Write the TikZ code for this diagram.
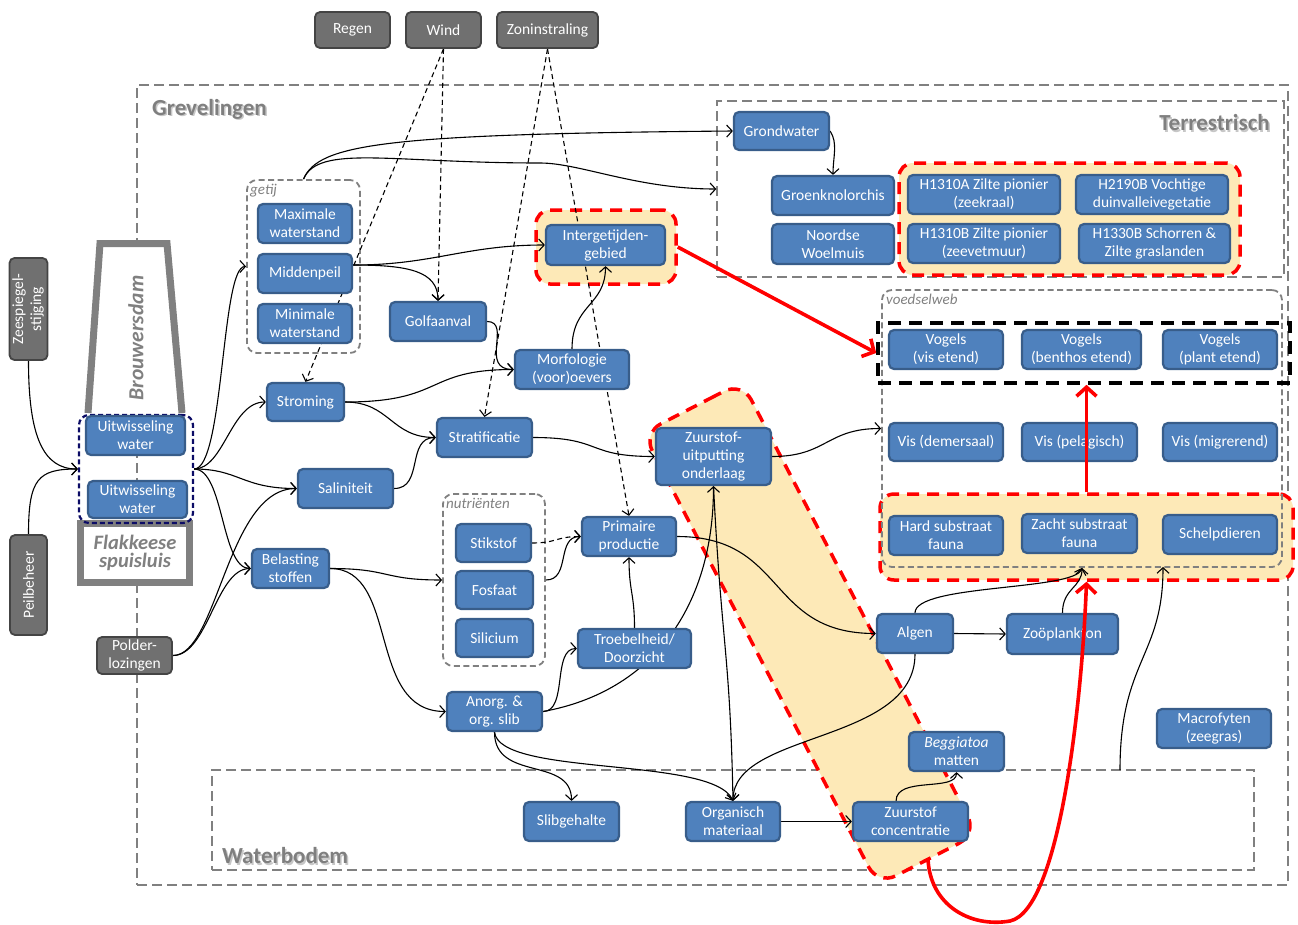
\documentclass[tikz,border=0pt]{standalone}
\usepackage{fontspec}
\setmainfont{Carlito}
\usepackage{graphicx}
\usetikzlibrary{arrows.meta}

\definecolor{bluefill}{HTML}{4F81BD}
\definecolor{bluebd}{HTML}{385D8A}
\definecolor{greyfill}{HTML}{707070}
\definecolor{greybd}{HTML}{444444}
\definecolor{boxgrey}{HTML}{808080}
\definecolor{labelgrey}{HTML}{7F7F7F}
\definecolor{paleorange}{HTML}{FDE9B7}
\definecolor{navyline}{HTML}{0C0C66}

\newcommand{\nodetxt}{\fontsize{15.5}{18}\selectfont}

\pgfdeclarelayer{bg}
\pgfdeclarelayer{lines}
\pgfdeclarelayer{top}
\pgfsetlayers{bg,lines,main,top}

\tikzset{
  bn/.style 2 args={rectangle, draw=bluebd, fill=bluefill, line width=2.2pt,
    rounded corners=5pt, minimum width=#1, minimum height=#2, inner sep=1pt,
    text=white, align=center, font=\nodetxt},
  gn/.style 2 args={rectangle, draw=greybd, fill=greyfill, line width=1.8pt,
    rounded corners=5pt, minimum width=#1, minimum height=#2, inner sep=1pt,
    text=white, align=center, font=\nodetxt},
  region/.style 2 args={rectangle, draw=boxgrey, line width=1.4pt,
    dash pattern=on 10pt off 5pt, minimum width=#1, minimum height=#2, inner sep=0pt},
  cluster/.style 2 args={rectangle, draw=boxgrey, line width=1.8pt,
    dash pattern=on 6pt off 3.5pt, rounded corners=10pt,
    minimum width=#1, minimum height=#2, inner sep=0pt},
  hot/.style 2 args={rectangle, draw=red, fill=paleorange, line width=3.5pt,
    dash pattern=on 12pt off 8pt, rounded corners=14pt,
    minimum width=#1, minimum height=#2, inner sep=0pt},
  arealabel/.style={font=\fontsize{23}{26}\selectfont\bfseries, text=labelgrey, inner sep=0pt},
  areashadow/.style={font=\fontsize{23}{26}\selectfont\bfseries, text=black!22, inner sep=0pt},
  clusterlabel/.style={font=\fontsize{15}{17}\selectfont\itshape, text=boxgrey,
    anchor=north west, inner sep=1pt},
  conn/.style={line width=1.1pt, -{Straight Barb[length=5.5pt,width=12pt]}},
  dconn/.style={conn, dash pattern=on 5pt off 3.5pt},
  redarrow/.style={red, line width=3.6pt, -{Straight Barb[length=9pt,width=20pt]}},
}

\begin{document}
\begin{tikzpicture}[x=1pt,y=-1pt]
\useasboundingbox (0,0) rectangle (1298,924);

% ---------- areas, clusters and highlights ----------
\begin{pgfonlayer}{bg}
  \node[region={1151}{800}] (grev) at (712.5,485) {};
  \node[region={567}{176}] (terr) at (1000.5,189) {};
  \node[region={1042}{100}] (wbod) at (733,820) {};

  \node[areashadow, anchor=west] (grevs) at (153.5,110.5) {Grevelingen};
  \node[arealabel, anchor=west] (grevl) at (152,109) {Grevelingen};
  \node[areashadow, anchor=east] (terrs) at (1271.5,124.5) {Terrestrisch};
  \node[arealabel, anchor=east] (terrl) at (1270,123) {Terrestrisch};
  \node[areashadow, anchor=west] (wbods) at (223.5,857.5) {Waterbodem};
  \node[arealabel, anchor=west] (wbodl) at (222,856) {Waterbodem};

  % highlighted groups
  \node[hot={140}{74}] (intgrp) at (606,247) {};
  \node[hot={341}{112}] (terrgrp) at (1069.5,219) {};
  \node[hot={413}{86}] (faunagrp) at (1086.5,537) {};
  \path[draw=red, fill=paleorange, line width=3.5pt, dash pattern=on 12pt off 8pt,
        rounded corners=20pt]
    (692.5,407.5) -- (742,382) -- (977,834) -- (878,885) -- (643,433) -- cycle;
  \coordinate (diagbot) at (928,859);

  % dashed clusters
  \node[cluster={113}{173}] (getij) at (303.5,266.5) {};
  \node[clusterlabel] (getijl) at (249,183) {getij};
  \node[cluster={102}{172}] (nut) at (494,580) {};
  \node[clusterlabel] (nutl) at (445,497) {nutriënten};
  \node[cluster={400}{277}] (voedsel) at (1082,428.5) {};
  \node[clusterlabel] (voedsell) at (885,293) {voedselweb};
  \node[rectangle, draw=black, line width=3.6pt, dash pattern=on 13pt off 8pt,
        minimum width=412, minimum height=60, inner sep=0pt] (vogelbox) at (1084,353) {};

  % Brouwersdam and Flakkeese spuisluis
  \path[fill=white] (88,413) -- (100,243.5) -- (167,243.5) -- (182,413) -- cycle;
  \draw[boxgrey, line width=7pt, line join=miter] (88,413) -- (100,243.5) -- (167,243.5) -- (182,413);
  \node[text=boxgrey, font=\fontsize{21.5}{24}\selectfont\bfseries\itshape, inner sep=0pt]
    (damtxt) at (136,338) {\rotatebox{90}{Brouwersdam}};
  \node[draw=boxgrey, fill=white, line width=7pt, minimum width=109, minimum height=59,
        inner sep=0pt, text=boxgrey, align=center,
        font=\fontsize{20.5}{18}\selectfont\bfseries\itshape] (spui) at (135,553) {Flakkeese\\spuisluis};

  \node[rectangle, draw=navyline, line width=2.2pt, dash pattern=on 5pt off 3pt,
        rounded corners=10pt, minimum width=114, minimum height=108, inner sep=0pt] (uwbox) at (136,469) {};
\end{pgfonlayer}

% ---------- drivers ----------
\node[gn={75}{36}] (regen) at (352.5,30) {Regen};
\node[gn={75}{36}] (wind) at (443.5,30) {Wind};
\node[gn={101}{36}] (zon) at (547.5,30) {Zoninstraling};
\node[gn={37}{102}] (zee) at (28.5,309) {\rotatebox{90}{\begin{tabular}{@{}c@{}}Zeespiegel-\\stijging\end{tabular}}};
\node[gn={37}{100}] (peil) at (28.5,585) {\rotatebox{90}{Peilbeheer}};
\node[gn={75}{37}] (polder) at (134.5,655.5) {Polder-\\lozingen};

% ---------- water system ----------
\node[bn={99}{39}] (uw1) at (135.5,435.5) {Uitwisseling\\water};
\node[bn={99}{37}] (uw2) at (137.5,499.5) {Uitwisseling\\water};
\node[bn={94}{39}] (max) at (305,223.5) {Maximale\\waterstand};
\node[bn={94}{39}] (mid) at (305,273.5) {Middenpeil};
\node[bn={94}{39}] (min) at (305,323.5) {Minimale\\waterstand};
\node[bn={119}{40}] (inter) at (605.5,245) {Intergetijden-\\gebied};
\node[bn={96}{39}] (golf) at (438,321.5) {Golfaanval};
\node[bn={114}{39}] (morf) at (572,369.5) {Morfologie\\(voor)oevers};
\node[bn={77}{38}] (strom) at (305.5,402) {Stroming};
\node[bn={95}{39}] (strat) at (484.5,437.5) {Stratificatie};
\node[bn={95}{39}] (sal) at (345.5,488.5) {Saliniteit};
\node[bn={77}{39}] (bel) at (290.5,568.5) {Belasting\\stoffen};
\node[bn={75}{38}] (stik) at (493.5,543) {Stikstof};
\node[bn={77}{38}] (fos) at (494.5,590) {Fosfaat};
\node[bn={77}{38}] (sil) at (494.5,638) {Silicium};
\node[bn={94}{39}] (prim) at (629,536.5) {Primaire\\productie};
\node[bn={113}{39}] (troeb) at (634.5,648.5) {Troebelheid/\\Doorzicht};
\node[bn={95}{39}] (anorg) at (494.5,711.5) {Anorg. \&\\org. slib};
\node[bn={115}{57}] (zuo) at (713.5,456.5) {Zuurstof-\\uitputting\\onderlaag};

% ---------- terrestrial ----------
\node[bn={95}{38}] (grond) at (781.5,131) {Grondwater};
\node[bn={122}{39}] (groen) at (833,195.5) {Groenknolorchis};
\node[bn={122}{40}] (noord) at (833,244) {Noordse\\Woelmuis};
\node[bn={152}{39}] (h1310a) at (984,194.5) {H1310A Zilte pionier\\(zeekraal)};
\node[bn={152}{39}] (h2190b) at (1152,194.5) {H2190B Vochtige\\duinvalleivegetatie};
\node[bn={152}{39}] (h1310b) at (984,243.5) {H1310B Zilte pionier\\(zeevetmuur)};
\node[bn={151}{39}] (h1330b) at (1154.5,243.5) {H1330B Schorren \&\\Zilte graslanden};

% ---------- food web ----------
\node[bn={114}{39}] (vvis) at (946,349.5) {Vogels\\(vis etend)};
\node[bn={119}{39}] (vben) at (1081.5,349.5) {Vogels\\(benthos etend)};
\node[bn={114}{39}] (vpla) at (1220,349.5) {Vogels\\(plant etend)};
\node[bn={114}{38}] (visd) at (946,442) {Vis (demersaal)};
\node[bn={115}{38}] (visp) at (1079.5,442) {Vis (pelagisch)};
\node[bn={114}{38}] (vism) at (1220,442) {Vis (migrerend)};
\node[bn={114}{39}] (hard) at (946,535.5) {Hard substraat\\fauna};
\node[bn={115}{39}] (zacht) at (1079.5,533.5) {Zacht substraat\\fauna};
\node[bn={114}{39}] (schelp) at (1220,534.5) {Schelpdieren};
\node[bn={76}{39}] (algen) at (915,633.5) {Algen};
\node[bn={111}{40}] (zoo) at (1062.5,634) {Zoöplankton};
\node[bn={114}{39}] (macro) at (1214,728.5) {Macrofyten\\(zeegras)};

% ---------- bed ----------
\node[bn={95}{39}] (beg) at (956.5,751.5) {\textit{Beggiatoa}\\matten};
\node[bn={115}{39}] (zc) at (910.5,821.5) {Zuurstof\\concentratie};
\node[bn={94}{39}] (org) at (733,821.5) {Organisch\\materiaal};
\node[bn={95}{39}] (slib) at (571.5,821.5) {Slibgehalte};

\coordinate (wbt) at (1120,770);
\coordinate (fs) at (1163,567);

% ---------- relations ----------
\begin{pgfonlayer}{lines}
  \draw[conn] (zee.south) .. controls +(0,75) and +(-35,0) .. (uwbox.west);
  \draw[conn] (peil.north) .. controls +(0,-55) and +(-40,0) .. (uwbox.west);
  \draw[conn] (uwbox.east) .. controls +(30,0) and +(-35,0) .. (strom.west);
  \draw[conn] (uwbox.east) .. controls +(45,0) and +(-55,0) .. (sal.west);
  \draw[conn] (uwbox.east) .. controls +(30,0) and +(-30,0) .. (bel.west);
  \draw[conn] (uwbox.east) .. controls +(30,0) and +(-25,0) .. (getij.west);
  \draw[conn] (polder.east) .. controls +(45,0) and +(-70,0) .. (sal.west);
  \draw[conn] (polder.east) .. controls +(35,0) and +(-35,0) .. (bel.west);
  \draw[conn] (getij.north) .. controls +(15,-35) and +(-350,3) .. (grond.west);
  \draw[conn] (getij.north) .. controls +(15,-35) and +(-150,0) .. (540,163)
                            .. controls +(40,0) and +(-80,0) .. (terr.west);
  \draw[conn] (mid.10) .. controls +(80,0) and +(-80,0) .. (inter.west);
  \draw[conn] (mid.10) .. controls +(55,0) and +(0,-30) .. (golf.north);
  \draw[dconn] (wind.south) -- (golf.north);
  \draw[dconn] (wind.south) -- (strom.north);
  \draw[dconn] (zon.south) -- (strat.north);
  \draw[dconn] (zon.south) -- (prim.north);
  \draw[conn] (golf.east) .. controls +(25,0) and +(-35,0) .. (morf.west);
  \draw[conn] (strom.east) .. controls +(100,0) and +(-90,0) .. (morf.west);
  \draw[conn] (strom.east) .. controls +(45,0) and +(-45,0) .. (strat.west);
  \draw[conn] (sal.east) .. controls +(30,0) and +(-30,0) .. (strat.west);
  \draw[conn] (morf.north) .. controls +(0,-45) and +(0,40) .. (inter.south);
  \draw[conn] (strat.east) .. controls +(70,0) and +(-70,0) .. (zuo.west);
  \draw[conn] (zuo.east) .. controls +(55,0) and +(-55,0) .. (voedsel.west);
  \draw[conn] (bel.east) .. controls +(60,0) and +(-60,0) .. (nut.west);
  \draw[conn] (bel.east) .. controls +(70,0) and +(-80,0) .. (anorg.west);
  \draw[dconn] (stik.east) .. controls +(25,0) and +(-25,0) .. (prim.west);
  \draw[conn] (nut.east) .. controls +(25,0) and +(-25,0) .. (prim.west);
  \draw[conn] (anorg.east) .. controls +(25,0) and +(-25,0) .. (troeb.west);
  \draw[conn] (troeb.north) .. controls +(0,-35) and +(0,35) .. (prim.south);
  \draw[conn] (anorg.east) .. controls +(110,-20) and +(0,120) .. (zuo.south);
  \draw[conn] (zuo.south) .. controls +(8,160) and +(-3,-150) .. (org.north);
  \draw[conn] (prim.east) .. controls +(110,0) and +(-110,0) .. (algen.west);
  \draw[conn] (algen.south) .. controls +(0,90) and +(0,-70) .. (org.north);
  \draw[conn] (anorg.south) .. controls +(0,50) and +(0,-45) .. (slib.north);
  \draw[conn] (anorg.south) .. controls +(5,45) and +(-20,-45) .. (org.north);
  \draw[conn] (org.east) -- (zc.west);
  \draw[conn] (zc.125) .. controls +(0,-25) and +(0,20) .. (beg.south);
  \draw[conn] (algen.east) -- (zoo.west);
  \draw[conn] (algen.north) .. controls +(0,-29) and +(-7,23) .. (voedsel.south);
  \draw[conn] (zoo.north) .. controls +(0,-25) and +(0,20) .. (voedsel.south);
  \draw[conn] (wbt) .. controls +(0,-110) and +(0,90) .. (fs);
  \draw[conn] (grond.east) .. controls +(8,12) and +(0,-18) .. (groen.north);
\end{pgfonlayer}

% ---------- highlighted effect chain ----------
\begin{pgfonlayer}{top}
  \draw[redarrow] (intgrp.east) -- (vogelbox.west);
  \draw[redarrow] (faunagrp.north) -- (faunagrp.north |- vogelbox.south);
  \draw[redarrow] (diagbot) .. controls (930,905) and (970,928) .. (1010,921)
                  .. controls (1060,910) and (1082,700) .. (faunagrp.south);
\end{pgfonlayer}
\end{tikzpicture}
\end{document}
